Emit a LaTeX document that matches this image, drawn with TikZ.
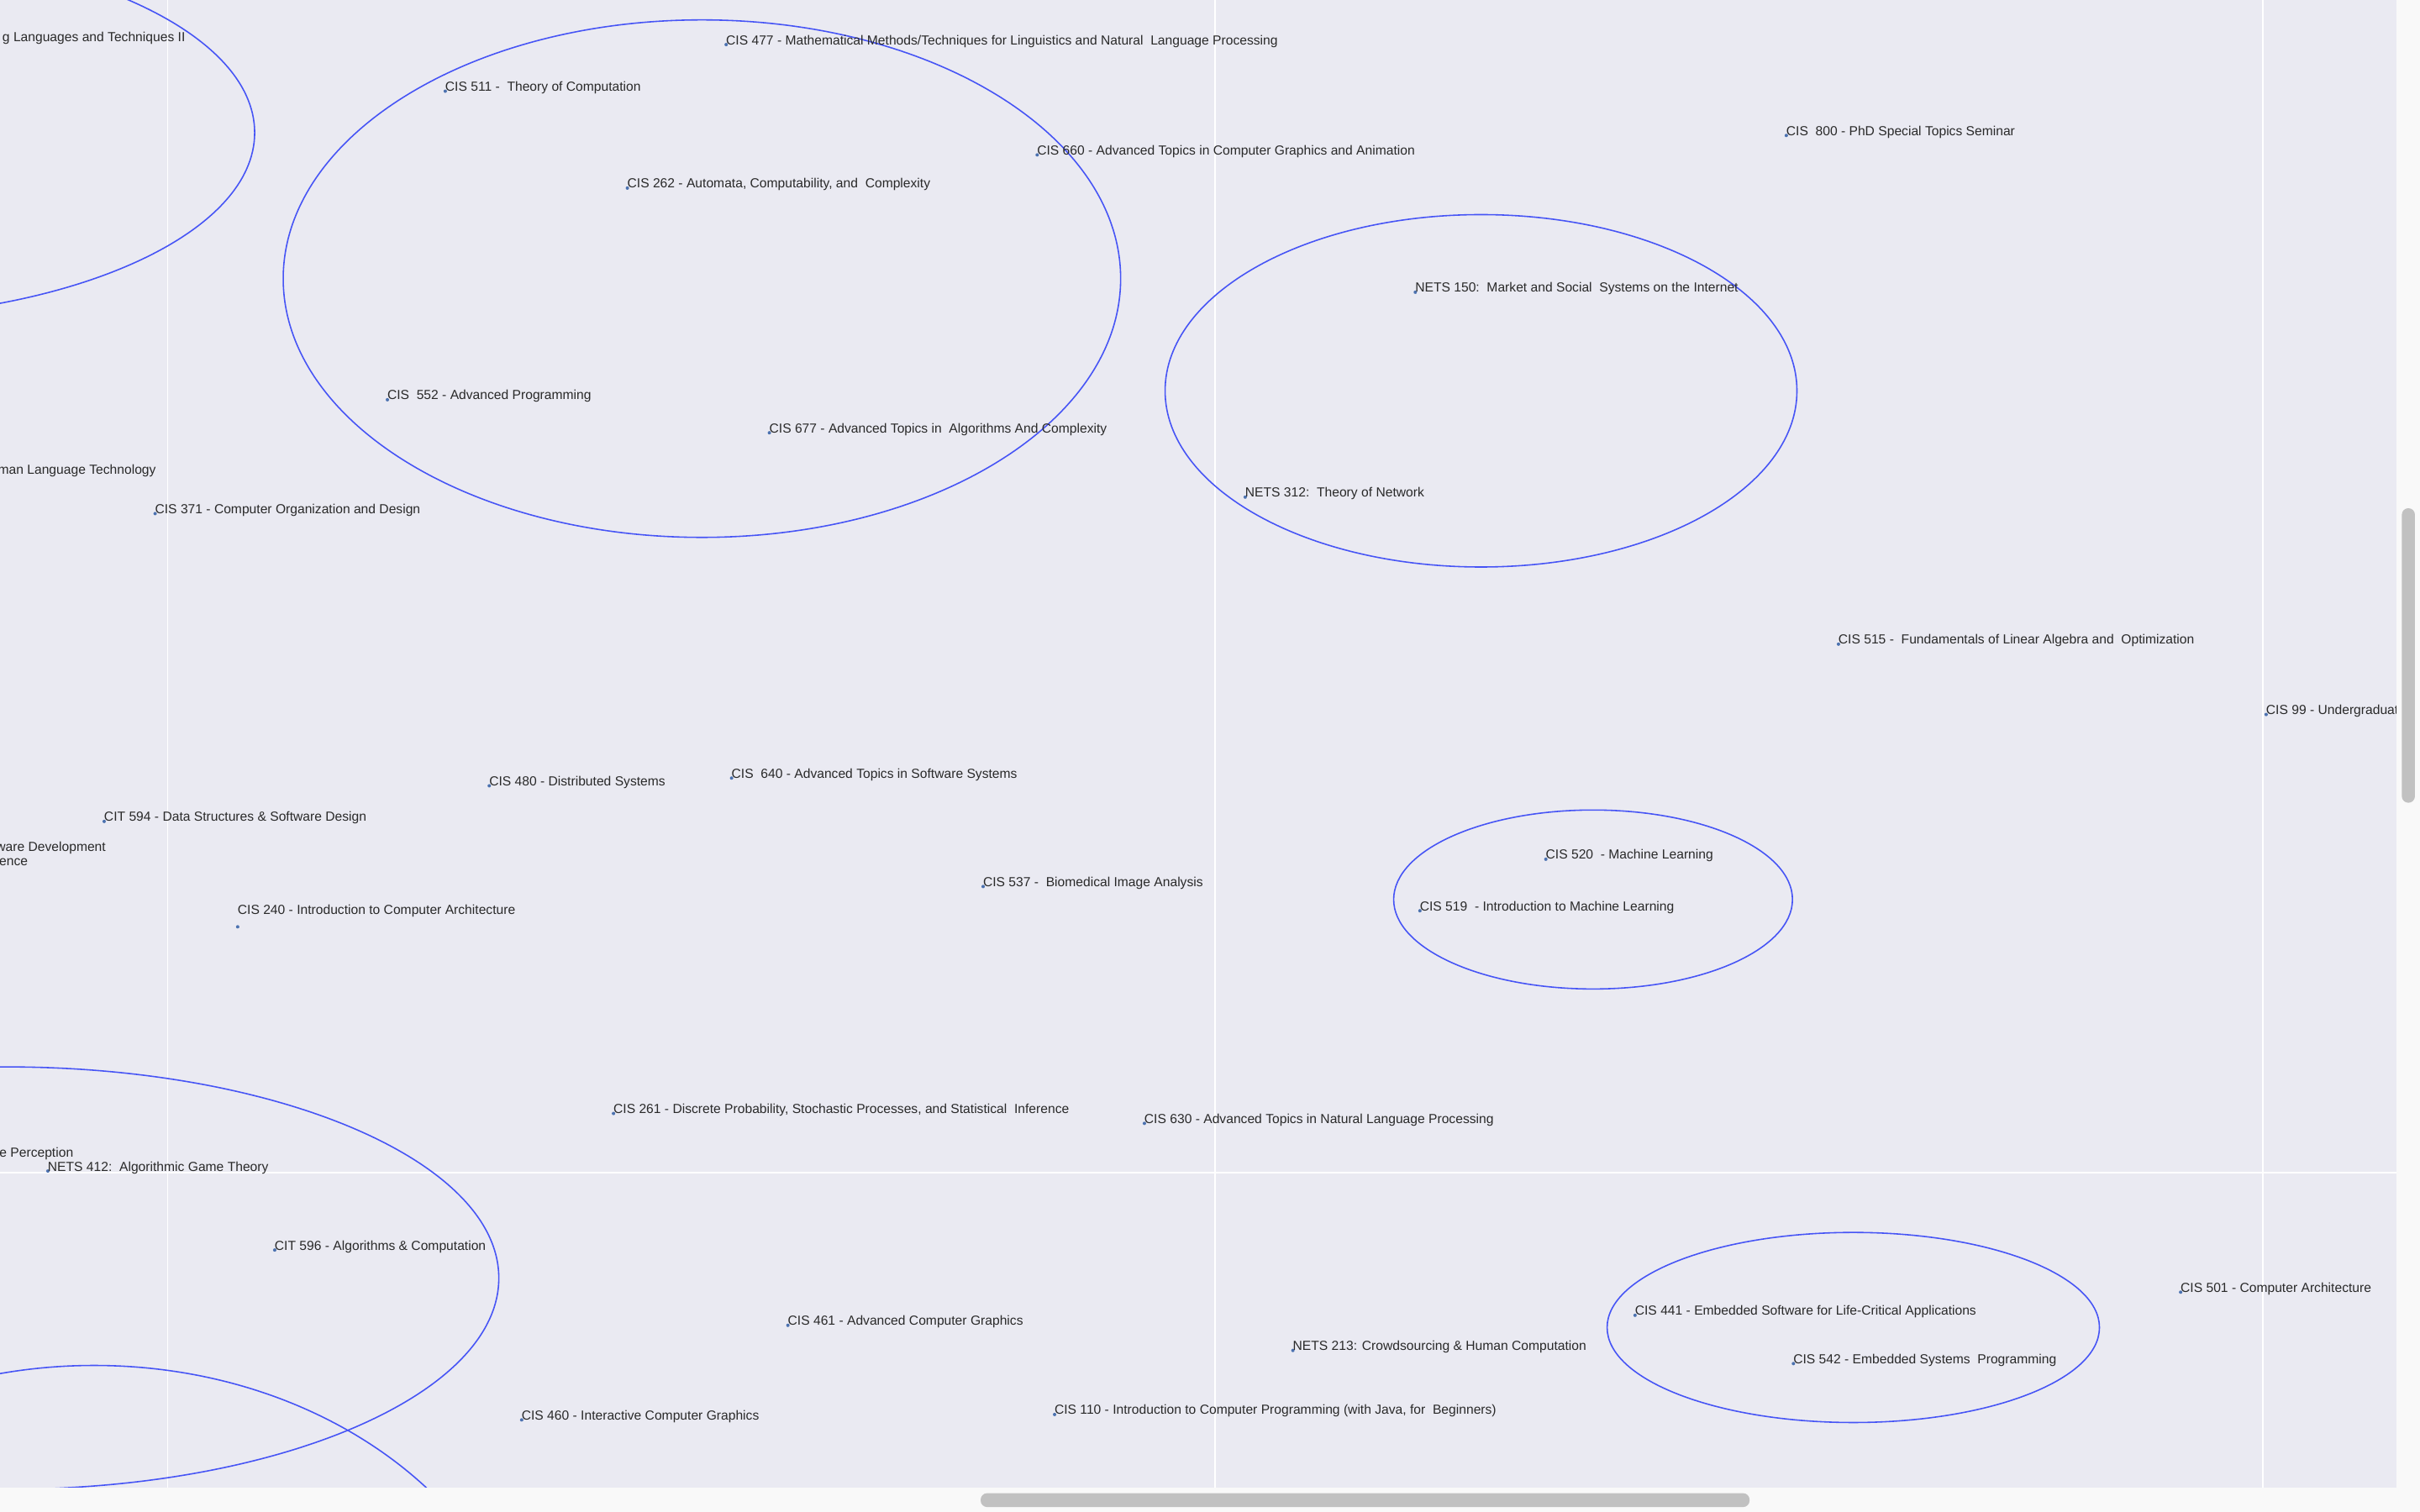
\documentclass[tikz,border=0pt]{standalone}
\usepackage{fontspec}
\setmainfont{Liberation Sans}
\usepackage{tikz}
\usetikzlibrary{positioning}
\definecolor{plotbg}{RGB}{234,234,242}
\definecolor{pagebg}{RGB}{249,249,249}
\definecolor{ringblue}{RGB}{70,84,245}
\definecolor{dotblue}{RGB}{76,114,176}
\definecolor{labelgray}{RGB}{42,42,42}
\definecolor{barslate}{RGB}{193,193,193}
\tikzset{course/.style={anchor=base west,inner sep=0pt,outer sep=0pt,text=labelgray,font=\fontsize{8.9}{10}\selectfont}}
\tikzset{cut course/.style={course,anchor=base east}}
\tikzset{pt/.style={circle,fill=dotblue,inner sep=0pt,minimum size=2.3pt}}
\tikzset{ring/.style={draw=ringblue,line width=0.9pt}}
\tikzset{grid line/.style={draw=white,line width=1.1pt}}
\tikzset{bar/.style={fill=barslate,rounded corners=4.4pt}}

\begin{document}
\begin{tikzpicture}[x=0.036735cm, y=-0.036735cm]
                    \useasboundingbox (0,0) rectangle (1568,980);
                    \fill[pagebg] (0,0) rectangle (1568,980);
                    \fill[plotbg] (0,0) rectangle (1552.6,964);

                    % grid
                    \draw[grid line] (108.6,0) -- (108.6,964);
                    \draw[grid line] (787.1,0) -- (787.1,964);
                    \draw[grid line] (1466.2,0) -- (1466.2,964);
                    \draw[grid line] (0,760.2) -- (1552.6,760.2);

                    \begin{scope}
                    \clip (0,0) rectangle (1552.6,964);

                    % clusters
                    \draw[ring] (-105,86) ellipse [x radius=270, y radius=120];
                    \draw[ring] (454.8,180.6) ellipse [x radius=271.3, y radius=167.7];
                    \draw[ring] (959.6,253.3) ellipse [x radius=204.7, y radius=114.2];
                    \draw[ring] (1032.2,583) ellipse [x radius=129.2, y radius=58];
                    \draw[ring] (1200.8,860.4) ellipse [x radius=159.5, y radius=61.6];
                    \draw[ring] (4,828.4) ellipse [x radius=319.2, y radius=136.9];
                    \draw[ring] (61,1115) ellipse [x radius=285, y radius=230];

                    % labels cut by the left edge
                    \node[cut course] at (120,27.1) (cLang) {g Languages and Techniques II};
                    \node[cut course] at (101,307.6) (cHLT) {man Language Technology};
                    \node[cut course] at (68.5,551.9) (cSwDev) {ware Development};
                    \node[cut course] at (18,561.1) (cSwDevB) {ence};
                    \node[cut course] at (47.5,749.8) (cPerc) {e Perception};

                    % courses
                    \node[pt] at (470.5,28.9) (p477) {};
                    \node[course] at (p477.center) (c477) {CIS 477 - Mathematical Methods/Techniques for Linguistics and Natural\ \ Language Processing};
                    \node[pt] at (288.5,59.1) (p511) {};
                    \node[course] at (p511.center) (c511) {CIS 511 -\ \ Theory of Computation};
                    \node[pt] at (672,100.4) (p660) {};
                    \node[course] at (p660.center) (c660) {CIS 660 - Advanced Topics in Computer Graphics and Animation};
                    \node[pt] at (406.5,121.9) (p262) {};
                    \node[course] at (p262.center) (c262) {CIS 262 - Automata, Computability, and\ \ Complexity};
                    \node[pt] at (251,259.1) (p552) {};
                    \node[course] at (p552.center) (c552) {CIS\ \ 552 - Advanced Programming};
                    \node[pt] at (498.5,280.5) (p677) {};
                    \node[course] at (p677.center) (c677) {CIS 677 - Advanced Topics in\ \ Algorithms And Complexity};
                    \node[pt] at (100.5,332.9) (p371) {};
                    \node[course] at (p371.center) (c371) {CIS 371 - Computer Organization and Design};

                    \node[pt] at (1157.4,87.8) (p800) {};
                    \node[course] at (p800.center) (c800) {CIS\ \ 800 - PhD Special Topics Seminar};
                    \node[pt] at (917,189.4) (n150) {};
                    \node[course] at (n150.center) (m150) {NETS 150:\ \ Market and Social\ \ Systems on the Internet};
                    \node[pt] at (806.8,322.2) (n312) {};
                    \node[course] at (n312.center) (m312) {NETS 312:\ \ Theory of Network};
                    \node[pt] at (1191.2,417.5) (p515) {};
                    \node[course] at (p515.center) (c515) {CIS 515 -\ \ Fundamentals of Linear Algebra and\ \ Optimization};
                    \node[pt] at (1468.3,463.1) (p99) {};
                    \node[course] at (p99.center) (c99) {CIS 99 - Undergraduate};

                    \node[pt] at (317,509.3) (p480) {};
                    \node[course] at (p480.center) (c480) {CIS 480 - Distributed Systems};
                    \node[pt] at (474,504.3) (p640) {};
                    \node[course] at (p640.center) (c640) {CIS\ \ 640 - Advanced Topics in Software Systems};
                    \node[pt] at (67.5,532.4) (t594) {};
                    \node[course] at (t594.center) (d594) {CIT 594 - Data Structures \& Software Design};
                    \node[pt] at (637,574.6) (p537) {};
                    \node[course] at (p537.center) (c537) {CIS 537 -\ \ Biomedical Image Analysis};
                    \node[pt] at (154,600.7) (p240) {};
                    \node[course] at (154,592.4) (c240) {CIS 240 - Introduction to Computer Architecture};
                    \node[pt] at (1001.6,556.9) (p520) {};
                    \node[course] at (p520.center) (c520) {CIS 520\ \ - Machine Learning};
                    \node[pt] at (920,590.3) (p519) {};
                    \node[course] at (p519.center) (c519) {CIS 519\ \ - Introduction to Machine Learning};

                    \node[pt] at (397.5,721.7) (p261) {};
                    \node[course] at (p261.center) (c261) {CIS 261 - Discrete Probability, Stochastic Processes, and Statistical\ \ Inference};
                    \node[pt] at (741.5,728.1) (p630) {};
                    \node[course] at (p630.center) (c630) {CIS 630 - Advanced Topics in Natural Language Processing};
                    \node[pt] at (31,759) (n412) {};
                    \node[course] at (n412.center) (m412) {NETS 412:\ \ Algorithmic Game Theory};
                    \node[pt] at (178,810.2) (t596) {};
                    \node[course] at (t596.center) (d596) {CIT 596 - Algorithms \& Computation};
                    \node[pt] at (510.5,859) (p461) {};
                    \node[course] at (p461.center) (c461) {CIS 461 - Advanced Computer Graphics};
                    \node[pt] at (338,920.3) (p460) {};
                    \node[course] at (p460.center) (c460) {CIS 460 - Interactive Computer Graphics};
                    \node[pt] at (683.3,916.8) (p110) {};
                    \node[course] at (p110.center) (c110) {CIS 110 - Introduction to Computer Programming (with Java, for\ \ Beginners)};
                    \node[pt] at (837.7,875.3) (n213) {};
                    \node[course] at (n213.center) (m213) {NETS 213: Crowdsourcing \& Human Computation};
                    \node[pt] at (1059.4,852.5) (p441) {};
                    \node[course] at (p441.center) (c441) {CIS 441 - Embedded Software for Life-Critical Applications};
                    \node[pt] at (1162,883.8) (p542) {};
                    \node[course] at (p542.center) (c542) {CIS 542 - Embedded Systems\ \ Programming};
                    \node[pt] at (1412.9,837.5) (p501) {};
                    \node[course] at (p501.center) (c501) {CIS 501 - Computer Architecture};
                    \end{scope}

                    % scroll bars
                    \fill[bar] (1556.2,329.4) rectangle (1564.7,520.3);
                    \fill[bar] (635.4,967.8) rectangle (1133.6,976.8);
\end{tikzpicture}
\end{document}
